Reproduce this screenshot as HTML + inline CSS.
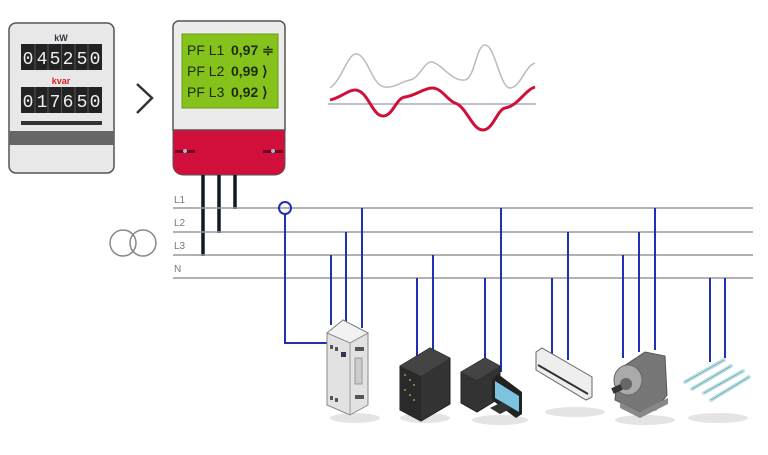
<!DOCTYPE html>
<html><head><meta charset="utf-8"><style>
html,body{margin:0;padding:0;background:#fff;}
svg{display:block;font-family:"Liberation Sans",sans-serif;}
</style></head><body>
<svg width="768" height="455" viewBox="0 0 768 455" xmlns="http://www.w3.org/2000/svg">
<!-- Meter 1 -->
<rect x="9" y="23" width="105" height="150" rx="7" fill="#e8e8e8" stroke="#555" stroke-width="1.5"/>
<rect x="9" y="131" width="105" height="14" fill="#666"/>
<text x="61" y="41" font-size="9" font-weight="bold" fill="#334" text-anchor="middle">kW</text>
<rect x="21" y="44" width="81" height="26" fill="#222"/>
<g font-size="18" fill="#eee" text-anchor="middle" font-family="Liberation Mono,monospace">
<text x="28" y="64">0</text><text x="42" y="64">4</text><text x="55" y="64">5</text><text x="68" y="64">2</text><text x="82" y="64">5</text><text x="95" y="64">0</text>
</g>
<text x="61" y="84" font-size="9" font-weight="bold" fill="#e02020" text-anchor="middle">kvar</text>
<rect x="21" y="87" width="81" height="26" fill="#222"/>
<g font-size="18" fill="#eee" text-anchor="middle" font-family="Liberation Mono,monospace">
<text x="28" y="107">0</text><text x="42" y="107">1</text><text x="55" y="107">7</text><text x="68" y="107">6</text><text x="82" y="107">5</text><text x="95" y="107">0</text>
</g>
<g stroke="#555" stroke-width="1">
<line x1="35" y1="44" x2="35" y2="70"/><line x1="48" y1="44" x2="48" y2="70"/><line x1="61.5" y1="44" x2="61.5" y2="70"/><line x1="75" y1="44" x2="75" y2="70"/><line x1="88" y1="44" x2="88" y2="70"/>
<line x1="35" y1="87" x2="35" y2="113"/><line x1="48" y1="87" x2="48" y2="113"/><line x1="61.5" y1="87" x2="61.5" y2="113"/><line x1="75" y1="87" x2="75" y2="113"/><line x1="88" y1="87" x2="88" y2="113"/>
</g>
<rect x="21" y="121" width="81" height="4" fill="#333"/>
<!-- chevron -->
<polyline points="137,84 152,98 137,113" fill="none" stroke="#333" stroke-width="2.5"/>
<!-- Meter 2 -->
<path d="M180,21 H279 a6,6 0 0 1 6,6 V130 H173 V27 a6,6 0 0 1 7,-6z" fill="#ececec" stroke="#555" stroke-width="1.5"/>
<path d="M173,130 H285 V165 a10,10 0 0 1 -10,10 H183 a10,10 0 0 1 -10,-10z" fill="#d0103a" stroke="#555" stroke-width="1"/>
<rect x="175" y="150" width="20" height="3" fill="#7a0020"/><circle cx="185" cy="151" r="2" fill="#9bc"/>
<rect x="263" y="150" width="20" height="3" fill="#7a0020"/><circle cx="273" cy="151" r="2" fill="#9bc"/>
<rect x="182" y="34" width="96" height="74" fill="#86c21c" stroke="#6a9a14"/>
<g font-size="14" fill="#1e2a10">
<text x="187" y="55">PF L1</text><text x="187" y="76">PF L2</text><text x="187" y="97">PF L3</text>
<g font-weight="bold"><text x="231" y="55">0,97 ≑</text><text x="231" y="76">0,99 ⟩</text><text x="231" y="97">0,92 ⟩</text></g>
</g>
<!-- black feed lines -->
<g stroke="#0e1a26" stroke-width="3.5">
<line x1="203" y1="175" x2="203" y2="256"/><line x1="219" y1="175" x2="219" y2="233"/><line x1="235" y1="175" x2="235" y2="209"/>
</g>
<!-- bus lines -->
<g stroke="#999" stroke-width="1.5">
<line x1="173" y1="208" x2="753" y2="208"/><line x1="173" y1="232" x2="753" y2="232"/>
<line x1="173" y1="255" x2="753" y2="255"/><line x1="173" y1="278" x2="753" y2="278"/>
</g>
<g font-size="10" fill="#777"><text x="174" y="203">L1</text><text x="174" y="226">L2</text><text x="174" y="249">L3</text><text x="174" y="272">N</text></g>
<circle cx="123" cy="243" r="13" fill="none" stroke="#888" stroke-width="1.5"/>
<circle cx="143" cy="243" r="13" fill="none" stroke="#888" stroke-width="1.5"/>
<!-- waveforms -->
<line x1="328" y1="104" x2="536" y2="104" stroke="#aab" stroke-width="1.5"/>
<path d="M330,88 C342,80 348,52 357,54 C368,56 372,86 385,87 C395,88 400,82 410,80 C420,78 424,61 432,62 C442,64 452,82 465,80 C475,78 476,45 485,45 C495,45 500,88 510,88 C520,88 525,66 535,63" fill="none" stroke="#bbb" stroke-width="1.5"/>
<path d="M330,100 C340,98 348,90 355,90 C368,90 372,116 383,116 C393,116 396,98 405,97 C415,96 424,88 432,88 C442,88 447,100 455,103 C467,107 472,130 483,130 C493,130 497,110 505,108 C518,106 525,90 535,87" fill="none" stroke="#d0103a" stroke-width="3"/>
<!-- blue drops -->
<g stroke="#2030b0" stroke-width="2" fill="none">
<circle cx="285" cy="208" r="6"/>
<polyline points="285,214 285,343 327,343"/>
<line x1="331" y1="255" x2="331" y2="325"/><line x1="346" y1="232" x2="346" y2="322"/><line x1="362" y1="208" x2="362" y2="328"/>
<line x1="417" y1="278" x2="417" y2="356"/><line x1="433" y1="255" x2="433" y2="350"/>
<line x1="485" y1="278" x2="485" y2="366"/><line x1="501" y1="208" x2="501" y2="372"/>
<line x1="552" y1="278" x2="552" y2="355"/><line x1="568" y1="232" x2="568" y2="360"/>
<line x1="623" y1="255" x2="623" y2="358"/><line x1="639" y1="232" x2="639" y2="352"/><line x1="655" y1="208" x2="655" y2="350"/>
<line x1="710" y1="278" x2="710" y2="362"/><line x1="725" y1="278" x2="725" y2="358"/>
</g>
<!-- shadows -->
<g fill="#e4e4e4">
<ellipse cx="355" cy="418" rx="25" ry="5"/><ellipse cx="425" cy="418" rx="25" ry="5"/>
<ellipse cx="500" cy="420" rx="28" ry="5"/><ellipse cx="575" cy="412" rx="30" ry="5"/>
<ellipse cx="645" cy="420" rx="30" ry="5"/><ellipse cx="718" cy="418" rx="30" ry="5"/>
</g>
<!-- UPS cabinet -->
<path d="M327,333 L343,320 L368,333 L368,405 L350,415 L327,405z" fill="#e2e2e2" stroke="#888"/>
<path d="M343,320 L368,333 L350,343 L327,333z" fill="#f2f2f2" stroke="#888"/>
<line x1="350" y1="343" x2="350" y2="415" stroke="#999"/>
<rect x="341" y="352" width="5" height="5" fill="#335"/>
<rect x="355" y="358" width="7" height="26" fill="#ccc" stroke="#999"/>
<g fill="#555"><rect x="330" y="345" width="3" height="4"/><rect x="335" y="347" width="3" height="4"/><rect x="330" y="396" width="3" height="4"/><rect x="335" y="398" width="3" height="4"/><rect x="355" y="395" width="9" height="4"/><rect x="355" y="347" width="9" height="4"/></g>
<!-- server -->
<path d="M400,366 L430,348 L450,358 L450,404 L421,421 L400,410z" fill="#333" stroke="#222"/>
<path d="M400,366 L430,348 L450,358 L421,376z" fill="#444"/>
<path d="M400,366 L421,376 L421,421 L400,410z" fill="#2a2a2a"/>
<g fill="#8a4">
<circle cx="405" cy="375" r="1"/><circle cx="410" cy="380" r="1"/><circle cx="414" cy="385" r="1"/><circle cx="405" cy="390" r="1"/><circle cx="410" cy="395" r="1"/><circle cx="414" cy="400" r="1"/>
</g>
<!-- PC -->
<path d="M461,372 L485,358 L500,366 L500,398 L477,412 L461,403z" fill="#333" stroke="#222"/>
<path d="M461,372 L485,358 L500,366 L477,380z" fill="#444"/>
<path d="M492,380 L498,374 L522,392 L522,414 L516,418 L492,400z" fill="#222"/>
<path d="M495,381 L519,396 L519,412 L495,398z" fill="#7cc3dd"/>
<path d="M490,408 L502,402 L512,408 L500,414z" fill="#333"/>
<!-- AC -->
<path d="M536,352 L542,348 L592,377 L592,397 L586,400 L536,370z" fill="#eee" stroke="#666"/>
<path d="M538,365 L588,394" stroke="#333" stroke-width="2"/>
<!-- motor -->
<path d="M618,370 L645,352 L665,356 L667,395 L656,410 L640,412 L615,400z" fill="#777" stroke="#555"/>
<ellipse cx="628" cy="380" rx="14" ry="15" fill="#aaa" stroke="#666"/>
<ellipse cx="626" cy="384" rx="6" ry="6" fill="#666"/>
<rect x="612" y="386" width="10" height="6" fill="#333" transform="rotate(-25 617 389)"/>
<path d="M620,402 L640,412 L668,398 L668,404 L640,418 L620,408z" fill="#888"/>
<!-- lamps -->
<g stroke="#bfe2ea" stroke-width="4" stroke-linecap="round">
<line x1="685" y1="382" x2="724" y2="360"/><line x1="692" y1="389" x2="731" y2="366"/>
<line x1="704" y1="393" x2="743" y2="371"/><line x1="711" y1="400" x2="749" y2="377"/>
</g>
<g stroke="#7aa" stroke-width="1" fill="none">
<line x1="685" y1="382" x2="724" y2="360"/><line x1="692" y1="389" x2="731" y2="366"/>
<line x1="704" y1="393" x2="743" y2="371"/><line x1="711" y1="400" x2="749" y2="377"/>
</g>
</svg>
</body></html>
